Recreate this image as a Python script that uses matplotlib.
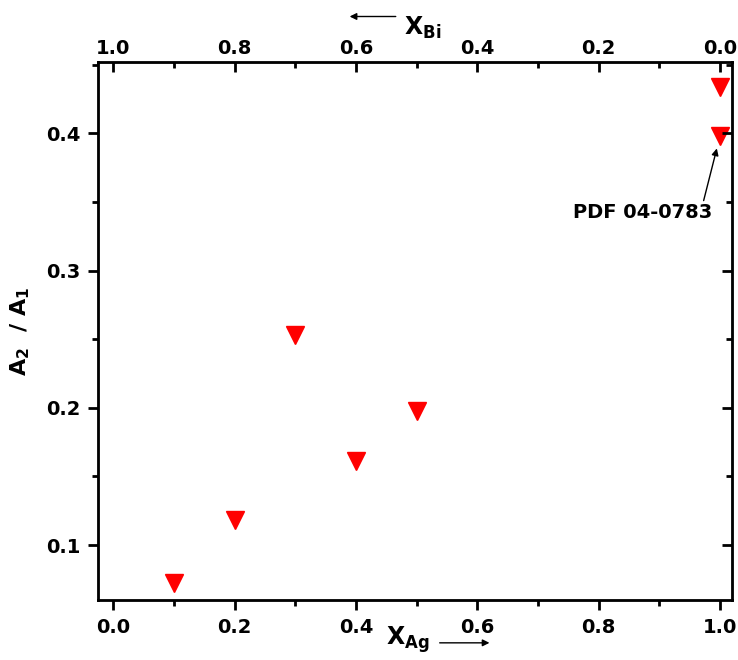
import numpy as np
import matplotlib.pyplot as plt
from matplotlib.ticker import MultipleLocator

# data
x_ag = [0.1, 0.2, 0.3, 0.4, 0.5, 1.0, 1.0]
ratio = [0.072, 0.118, 0.253, 0.161, 0.198, 0.398, 0.434]
x_ticks = [0.0, 0.2, 0.4, 0.6, 0.8, 1.0]
y_ticks = [0.1, 0.2, 0.3, 0.4]

plt.rcParams['font.family'] = ['DejaVu Sans']
plt.rcParams['font.weight'] = 'bold'
plt.rcParams['mathtext.default'] = 'bf'

fig = plt.figure(figsize=(7.38, 6.6), dpi=100)
ax = fig.add_axes([0.133, 0.091, 0.859, 0.815])

ax.plot(x_ag, ratio, linestyle='none', marker='v', color='red', ms=13, mec='red')

xl = (-0.025, 1.02)
ax.set_xlim(xl)
ax.set_ylim(0.06, 0.452)
ax.set_xticks(x_ticks)
ax.set_yticks(y_ticks)
ax.xaxis.set_minor_locator(MultipleLocator(0.1))
ax.yaxis.set_minor_locator(MultipleLocator(0.05))
ax.set_xticklabels(['%.1f' % v for v in x_ticks], fontsize=14, fontweight='bold')
ax.set_yticklabels(['%.1f' % v for v in y_ticks], fontsize=14, fontweight='bold')

for s in ax.spines.values():
    s.set_linewidth(2)
ax.tick_params(which='major', direction='out', length=7, width=2, pad=6,
               right=False, top=False)
ax.tick_params(which='minor', direction='out', length=4, width=2,
               right=False, top=False)

# right side ticks point inward
axr = ax.twinx()
axr.set_ylim(ax.get_ylim())
axr.set_yticks(y_ticks)
axr.yaxis.set_minor_locator(MultipleLocator(0.05))
axr.tick_params(which='major', direction='in', length=7, width=2,
                labelright=False, left=False)
axr.tick_params(which='minor', direction='in', length=4, width=2, left=False)

top = ax.twiny()
top.set_xlim(1 - xl[0], 1 - xl[1])
top.set_xticks(x_ticks)
top.xaxis.set_minor_locator(MultipleLocator(0.1))
top.set_xticklabels(['%.1f' % v for v in x_ticks], fontsize=14, fontweight='bold')
top.tick_params(which='major', direction='in', length=7, width=2, pad=3, bottom=False)
top.tick_params(which='minor', direction='in', length=4, width=2, bottom=False)

ax.set_ylabel(r'$A_2$  / $A_1$', fontsize=16, fontweight='bold', labelpad=10)

# axis titles with arrows
fig.text(0.553, 0.008, r'$X_{Ag}$', fontsize=17, ha='center', va='bottom')
fig.add_artist(plt.Annotation('', xy=(0.667, 0.026), xytext=(0.592, 0.026),
                              xycoords='figure fraction',
                              arrowprops=dict(arrowstyle='-|>', color='black', lw=1, mutation_scale=10)))
fig.text(0.548, 0.958, r'$X_{Bi}$', fontsize=17, ha='left', va='center')
fig.add_artist(plt.Annotation('', xy=(0.47, 0.975), xytext=(0.54, 0.975),
                              xycoords='figure fraction',
                              arrowprops=dict(arrowstyle='-|>', color='black', lw=1, mutation_scale=10)))

ax.annotate('PDF 04-0783', xy=(0.996, 0.391), xytext=(0.988, 0.349),
            fontsize=14, fontweight='bold', ha='right', va='top',
            arrowprops=dict(arrowstyle='-|>', color='black', lw=1, mutation_scale=10,
                            shrinkA=0, shrinkB=2, relpos=(0.93, 1.0)))

fig.savefig('out.png', dpi=100)
